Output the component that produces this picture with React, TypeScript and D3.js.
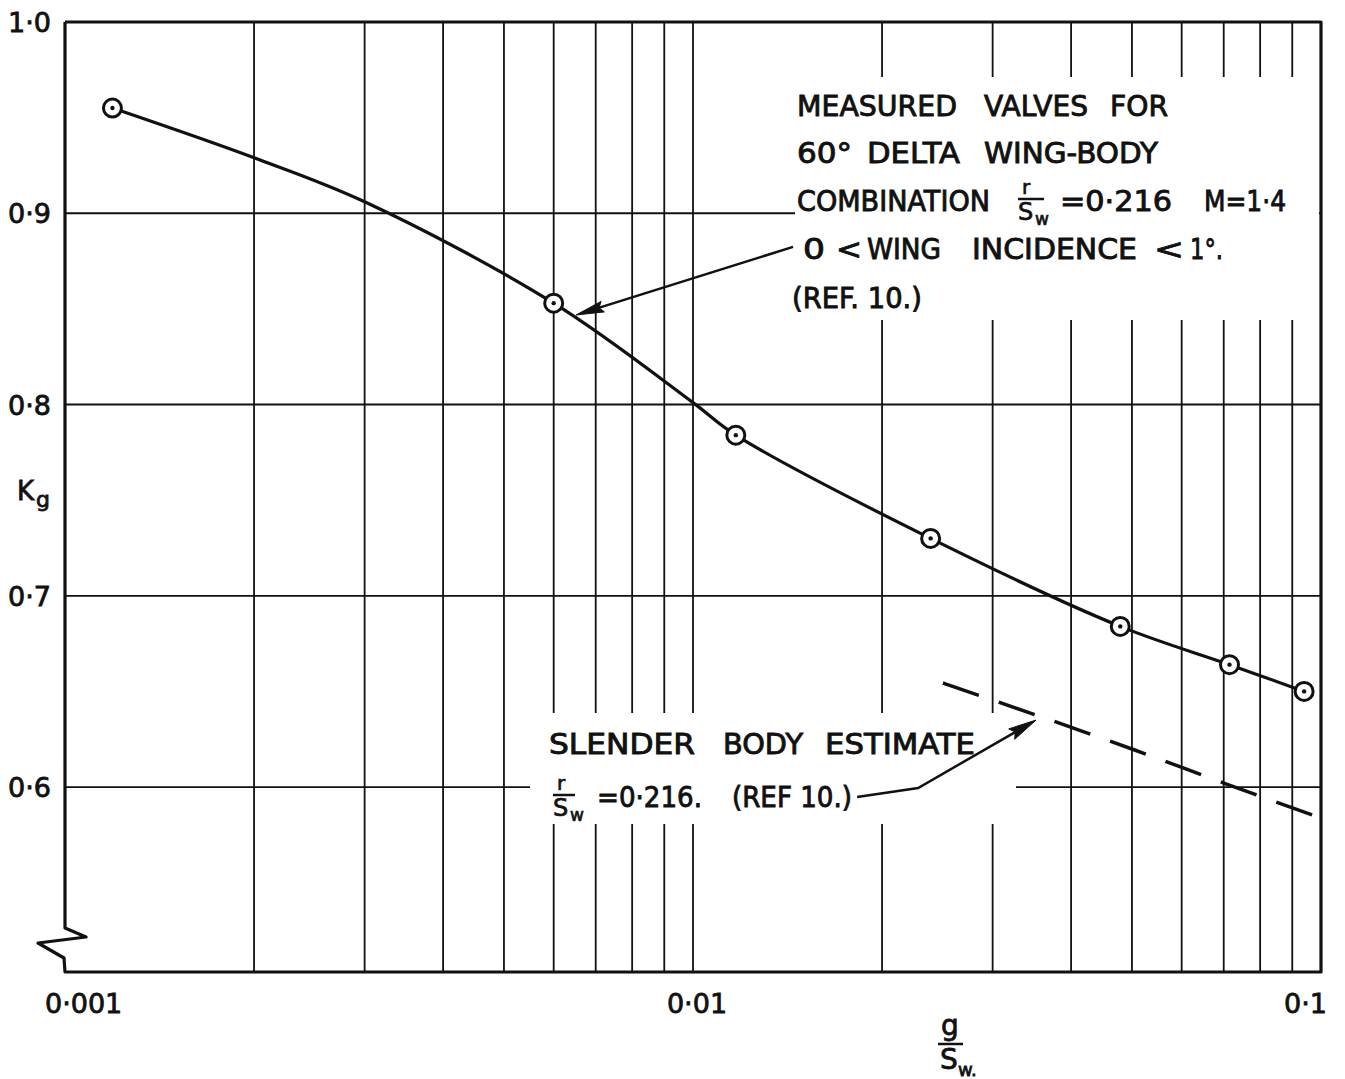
import React from 'react'
import * as d3 from 'd3'

// measured values, 60 deg delta wing-body, r/Sw = 0.216, M = 1.4 (ref. 10)
const measuredGap = [0.00119, 0.006, 0.0117, 0.0239, 0.0479, 0.0715, 0.094]
const measuredK = [0.955, 0.853, 0.784, 0.730, 0.684, 0.664, 0.650]

const fairedGap = [0.00119, 0.002, 0.003, 0.006, 0.01, 0.0117, 0.0239, 0.0479, 0.0715, 0.094]
const fairedK = [0.955, 0.929, 0.906, 0.853, 0.801, 0.784, 0.730, 0.684, 0.664, 0.650]

// slender body estimate (dashed)
const slenderGap = [0.025, 0.03, 0.05, 0.07, 0.1]
const slenderK = [0.6544, 0.6455, 0.6199, 0.6021, 0.5838]

// leader arrows, in data units
const upperArrowGap = [0.01443, 0.006513]
const upperArrowK = [0.8824, 0.8468]
const lowerArrowGap = [0.01825, 0.02283, 0.03517]
const lowerArrowK = [0.5948, 0.5995, 0.635]

// grid and ticks
const xGrid = [0.002, 0.003, 0.004, 0.005, 0.006, 0.007, 0.008, 0.009, 0.01,
    0.02, 0.03, 0.04, 0.05, 0.06, 0.07, 0.08, 0.09]
const xLabelValues = [0.001, 0.01, 0.1]
const xLabels = ['0·001', '0·01', '0·1']
const yGrid = [0.6, 0.7, 0.8, 0.9]
const yLabelValues = [0.6, 0.7, 0.8, 0.9, 1.0]
const yLabels = ['0·6', '0·7', '0·8', '0·9', '1·0']

const W = 1345
const H = 1079
const left = 65
const right = 1321
const top = 22
const bottom = 972
const font = "'DejaVu Sans', sans-serif"
const ink = '#111'

const x = d3.scaleLog().domain([0.001, 0.1]).range([left, right])
const y = d3.scaleLinear().domain([0.5033, 1.0]).range([bottom, top])

const upperNote = [
    { t: 'MEASURED', x: 797, y: 116, w: 160 },
    { t: 'VALVES', x: 984, y: 116, w: 104 },
    { t: 'FOR', x: 1110, y: 116, w: 58 },
    { t: '60°', x: 797, y: 163, w: 55 },
    { t: 'DELTA', x: 867, y: 163, w: 93 },
    { t: 'WING-BODY', x: 984, y: 163, w: 174 },
    { t: 'COMBINATION', x: 797, y: 211, w: 193 },
    { t: '=0·216', x: 1060, y: 211, w: 112 },
    { t: 'M=1·4', x: 1204, y: 211, w: 82 },
    { t: '0', x: 803, y: 259, w: 22 },
    { t: '<', x: 836, y: 259, w: 26 },
    { t: 'WING', x: 867, y: 259, w: 74 },
    { t: 'INCIDENCE', x: 972, y: 259, w: 165 },
    { t: '<', x: 1154, y: 259, w: 30 },
    { t: '1°.', x: 1190, y: 259, w: 33 },
    { t: '(REF. 10.)', x: 792, y: 308, w: 130 },
]

const lowerNote = [
    { t: 'SLENDER', x: 549, y: 754, w: 146 },
    { t: 'BODY', x: 723, y: 754, w: 80 },
    { t: 'ESTIMATE', x: 825, y: 754, w: 150 },
    { t: '=0·216.', x: 597, y: 807, w: 105 },
    { t: '(REF 10.)', x: 732, y: 807, w: 120 },
]

const Word = ({ t, x, y, w, size = 28 }) => (
    <text
        x={x}
        y={y}
        fontSize={size}
        textLength={w}
        lengthAdjust='spacingAndGlyphs'
        fontFamily={font}
        fill={ink}
        stroke={ink}
        strokeWidth={0.9}
    >
        {t}
    </text>
)

// r over S_w, drawn as stacked lettering
const Frac = ({ x, y, w = 26 }) => (
    <g fontFamily={font} fill={ink} stroke={ink} strokeWidth={0.7}>
        <text x={x + 4} y={y - 17} fontSize={20}>r</text>
        <line x1={x} x2={x + w} y1={y - 12} y2={y - 12} stroke={ink} strokeWidth={2.5} />
        <text x={x} y={y + 9} fontSize={24}>S</text>
        <text x={x + 17} y={y + 14} fontSize={17}>w</text>
    </g>
)

const Arrow = ({ gaps, ks, head = 28, half = 5.5 }) => {
    const pts = gaps.map((g, i) => [x(g), y(ks[i])])
    const [tx, ty] = pts[pts.length - 1]
    const [px, py] = pts[pts.length - 2]
    const len = Math.hypot(tx - px, ty - py)
    const ux = (tx - px) / len
    const uy = (ty - py) / len
    const bx = tx - ux * head
    const by = ty - uy * head
    const tri = [
        [tx, ty],
        [bx - uy * half, by + ux * half],
        [bx + ux * 4, by + uy * 4],
        [bx + uy * half, by - ux * half],
    ]
    return (
        <g>
            <path d={d3.line()(pts.slice(0, -1).concat([[bx + ux * 6, by + uy * 6]]))} fill='none' stroke={ink} strokeWidth={2.5} />
            <path d={d3.line()(tri) + 'Z'} fill={ink} stroke={ink} strokeWidth={1} strokeLinejoin='round' />
        </g>
    )
}

const App = () => {
    const faired = d3
        .line()
        .x(d => x(d[0]))
        .y(d => y(d[1]))
        .curve(d3.curveCatmullRom.alpha(0.5))(fairedGap.map((g, i) => [g, fairedK[i]]))

    const slender = d3
        .line()
        .x(d => x(d[0]))
        .y(d => y(d[1]))
        .curve(d3.curveMonotoneX)(slenderGap.map((g, i) => [g, slenderK[i]]))

    // axis break zig-zag at the foot of the K axis
    const zig = d3.line()([
        [left, top],
        [left, bottom - 44],
        [left + 21, bottom - 35],
        [left - 27, bottom - 29],
        [left - 1, bottom - 14],
        [left, bottom],
        [right, bottom],
        [right, top],
        [left, top],
    ])

    return (
        <svg
            width={W}
            height={H}
            style={{ position: 'absolute', left: 0, top: 0, background: '#fff' }}
        >
            <rect width={W} height={H} fill='#fff' />

            {/* grid */}
            <g stroke={ink} strokeWidth={1.8}>
                {xGrid.map(v => (
                    <line key={'gx' + v} x1={x(v)} x2={x(v)} y1={top} y2={bottom} />
                ))}
                {yGrid.map(v => (
                    <line key={'gy' + v} x1={left} x2={right} y1={y(v)} y2={y(v)} />
                ))}
            </g>

            {/* clear the grid behind the notes */}
            <rect x={795} y={77} width={right - 2 - 795} height={243} fill='#fff' />
            <rect x={530} y={713} width={486} height={111} fill='#fff' />

            {/* frame */}
            <path d={zig} fill='none' stroke={ink} strokeWidth={3.2} strokeLinejoin='round' />

            {/* slender body estimate */}
            <path d={slender} fill='none' stroke={ink} strokeWidth={3.5} strokeDasharray='38 21' />

            {/* faired curve and measured points */}
            <path d={faired} fill='none' stroke={ink} strokeWidth={3.2} />
            {measuredGap.map((g, i) => (
                <g key={'pt' + i} transform={`translate(${x(g)}, ${y(measuredK[i])})`}>
                    <circle r={9} fill='#fff' stroke={ink} strokeWidth={3} />
                    <circle r={2.2} fill={ink} />
                </g>
            ))}

            {/* leaders */}
            <Arrow gaps={upperArrowGap} ks={upperArrowK} />
            <Arrow gaps={lowerArrowGap} ks={lowerArrowK} half={6} />

            {/* notes */}
            {upperNote.map((d, i) => <Word key={'u' + i} {...d} />)}
            <Frac x={1018} y={211} />
            {lowerNote.map((d, i) => <Word key={'l' + i} {...d} />)}
            <Frac x={553} y={807} w={22} />

            {/* tick labels */}
            <g fontFamily={font} fontSize={27} fill={ink} stroke={ink} strokeWidth={0.8}>
                {yLabelValues.map((v, i) => (
                    <text key={'yl' + v} x={8} y={y(v) + 10}>{yLabels[i]}</text>
                ))}
                {xLabelValues.map((v, i) => (
                    <text
                        key={'xl' + v}
                        x={x(v) + [-20, 4, 6][i]}
                        y={1013}
                        textAnchor={['start', 'middle', 'end'][i]}
                    >
                        {xLabels[i]}
                    </text>
                ))}
            </g>

            {/* axis titles */}
            <g fontFamily={font} fill={ink} stroke={ink} strokeWidth={0.8}>
                <text x={17} y={500} fontSize={26}>K</text>
                <text x={36} y={507} fontSize={22}>g</text>

                <text x={950} y={1035} fontSize={28} textAnchor='middle'>g</text>
                <line x1={938} x2={963} y1={1044} y2={1044} stroke={ink} strokeWidth={2.5} />
                <text x={940} y={1069} fontSize={28}>S</text>
                <text x={958} y={1076} fontSize={18}>w.</text>
            </g>
        </svg>
    )
}

export default App
